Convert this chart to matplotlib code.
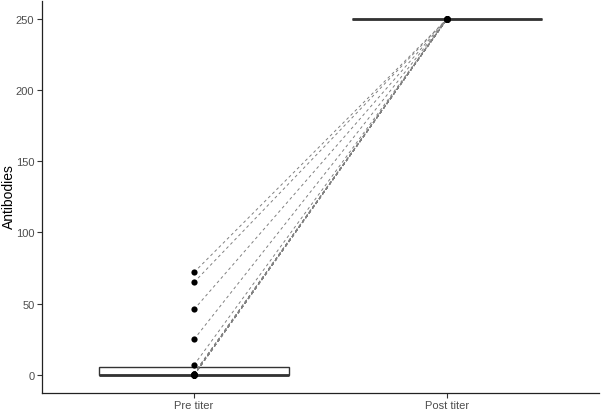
import numpy as np
import matplotlib.pyplot as plt

plt.rcParams['font.family'] = ['Liberation Sans', 'DejaVu Sans']

categories = ['Pre titer', 'Post titer']
pre_titer = [0, 0, 0, 0, 0, 0, 0, 0, 0, 0, 1, 1, 1, 7, 25, 46, 65, 72]
post_titer = [250] * len(pre_titer)
y_ticks = [0, 50, 100, 150, 200, 250]

fig = plt.figure(figsize=(6.02, 4.10), dpi=100)
axes = fig.add_axes([0.0698, 0.0395, 0.9259, 0.9564])

positions = np.arange(1, len(categories) + 1)

axes.boxplot([pre_titer, post_titer], positions=positions, widths=0.75,
             whis=1.5, showfliers=False, showcaps=False, patch_artist=True,
             boxprops=dict(facecolor='white', edgecolor='#333333', lw=1.0),
             medianprops=dict(color='#333333', lw=2.0),
             whiskerprops=dict(color='#333333', lw=1.0), zorder=1)

for pre, post in zip(pre_titer, post_titer):
    axes.plot(positions, [pre, post], color='#808080', lw=0.7,
              dashes=(3, 3), zorder=2)

axes.scatter(np.full(len(pre_titer), positions[0]), pre_titer, s=20,
             color='black', zorder=3, linewidths=0)
axes.scatter(np.full(len(post_titer), positions[1]), post_titer, s=20,
             color='black', zorder=3, linewidths=0)

axes.set_xlim(0.4, 2.6)
axes.set_ylim(-12.5, 262.5)
axes.set_xticks(positions)
axes.set_xticklabels(categories)
axes.set_yticks(y_ticks)

# y label placed by hand so it is not cut at the left edge
fig.text(0.004, 0.52, 'Antibodies', rotation=90, ha='left', va='center',
         fontsize=10, color='black')

for side in ['top', 'right']:
    axes.spines[side].set_visible(False)
for side in ['left', 'bottom']:
    axes.spines[side].set_linewidth(0.9)
    axes.spines[side].set_color('#222222')

axes.tick_params(axis='both', length=3.5, width=0.8, color='#333333',
                 labelsize=8, labelcolor='#4d4d4d', pad=2)

plt.savefig('out.png', dpi=100)
plt.close(fig)
